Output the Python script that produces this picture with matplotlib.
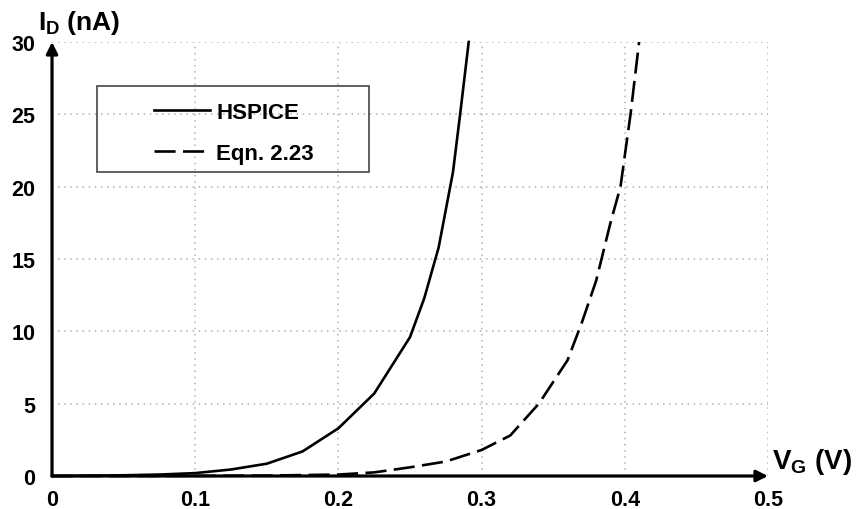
import matplotlib.pyplot as plt
from matplotlib.patches import Rectangle

plt.rcParams['font.family'] = 'Liberation Sans'
plt.rcParams['font.weight'] = 'bold'
plt.rcParams['mathtext.fontset'] = 'custom'
plt.rcParams['mathtext.bf'] = 'Liberation Sans:bold'
plt.rcParams['mathtext.rm'] = 'Liberation Sans:bold'

# HSPICE simulation
vg_hspice = [0.0, 0.025, 0.05, 0.075, 0.1, 0.125, 0.15, 0.175, 0.2, 0.225,
             0.25, 0.26, 0.27, 0.28, 0.285, 0.291]
id_hspice = [0.0, 0.02, 0.05, 0.1, 0.2, 0.45, 0.85, 1.7, 3.3, 5.7,
             9.6, 12.3, 15.8, 21.0, 25.0, 30.0]

# Eqn. 2.23 model
vg_eqn = [0.0, 0.05, 0.1, 0.15, 0.2, 0.225, 0.25, 0.275, 0.3, 0.32, 0.34,
          0.36, 0.37, 0.38, 0.39, 0.397, 0.404, 0.407, 0.41]
id_eqn = [0.0, 0.0, 0.01, 0.03, 0.1, 0.25, 0.6, 1.0, 1.8, 2.8, 5.0,
          8.0, 10.6, 13.5, 17.5, 20.0, 25.0, 27.5, 30.0]

xticks = [0, 0.1, 0.2, 0.3, 0.4, 0.5]
yticks = [0, 5, 10, 15, 20, 25, 30]

fig = plt.figure(figsize=(8.6, 5.1), dpi=100, facecolor='white')
ax = fig.add_axes([0.0605, 0.0647, 0.8325, 0.851])

ax.plot(vg_hspice, id_hspice, color='black', lw=1.9, label='HSPICE',
        clip_on=False, zorder=3)
ax.plot(vg_eqn, id_eqn, color='black', lw=1.9, dashes=(8, 2.8),
        label='Eqn. 2.23', clip_on=False, zorder=3)

ax.set_xlim(0, 0.5)
ax.set_ylim(0, 30)
ax.set_xticks(xticks)
ax.set_xticklabels(['0', '0.1', '0.2', '0.3', '0.4', '0.5'])
ax.set_yticks(yticks)
ax.tick_params(length=0, labelsize=15.5)
ax.tick_params(axis='y', pad=12)
ax.tick_params(axis='x', pad=9)
for s in ax.spines.values():
    s.set_visible(False)
ax.grid(True, color='#b0b0b0', lw=1.1, linestyle=(0, (1, 3)))
ax.set_axisbelow(True)

# axes drawn as arrows
ax.annotate('', xy=(0.5, 0), xytext=(0, 0),
            arrowprops=dict(arrowstyle='-|>', lw=2.3, color='black',
                            mutation_scale=17, shrinkA=0, shrinkB=0),
            annotation_clip=False)
ax.annotate('', xy=(0, 30), xytext=(0, 0),
            arrowprops=dict(arrowstyle='-|>', lw=2.3, color='black',
                            mutation_scale=17, shrinkA=0, shrinkB=0),
            annotation_clip=False)

ax.text(-0.02, 1.014, r'$\mathbf{I_D}$ (nA)', transform=ax.transAxes,
        fontsize=19, fontweight='bold', ha='left', va='bottom')
ax.text(1.006, 0.0, r'$\mathbf{V_G}$ (V)', transform=ax.transAxes,
        fontsize=20, fontweight='bold', ha='left', va='bottom')

# legend box
ax.add_patch(Rectangle((0.063, 0.70), 0.38, 0.199, transform=ax.transAxes,
                       fill=False, edgecolor='#444444', lw=1.2, zorder=4))
ax.legend(loc='upper left', bbox_to_anchor=(0.1425, 0.862), frameon=False,
          borderpad=0, borderaxespad=0, fontsize=16, handlelength=2.5,
          handletextpad=0.3, labelspacing=0.9)

plt.savefig('out.png', dpi=100, facecolor='white')
